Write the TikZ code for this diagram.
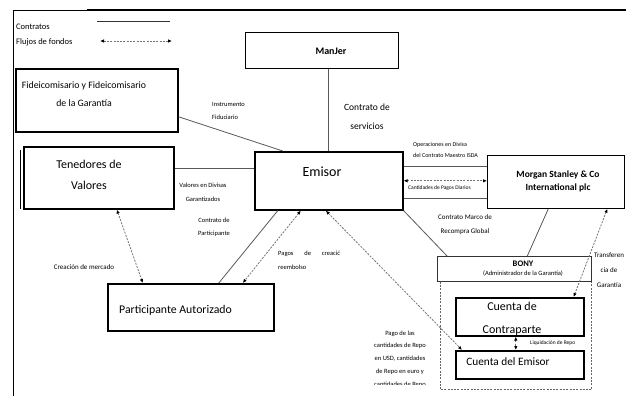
\documentclass[tikz,border=0pt]{standalone}
\usepackage{fontspec}
\setmainfont{Carlito}
\usetikzlibrary{arrows.meta,calc}
\newcommand\myfs[2]{\fontsize{#1}{#2}\selectfont}
\begin{document}
\begin{tikzpicture}[x=1pt,y=-1pt,
  thickbox/.style={draw=black, line width=1.6pt, inner sep=0, anchor=north west},
  thinbox/.style={draw=black, line width=0.7pt, inner sep=0, anchor=north west},
  conn/.style={draw=black!65, line width=0.8pt},
  flow/.style={draw=black!55, line width=0.8pt, dash pattern=on 2pt off 1.3pt,
    {Latex[length=4pt,width=3.5pt,color=black]}-{Latex[length=4pt,width=3.5pt,color=black]}},
  txt/.style={inner sep=0, align=center},
  txtl/.style={inner sep=0, align=left, anchor=west},
]
\clip (0,0) rectangle (626,396);
\fill[white] (0,0) rectangle (626,396);

% frame
\draw[line width=0.8pt] (13,396) -- (13,10) -- (87,10);
\draw[line width=1.6pt] (87,10) -- (626,10);

% legend
\node[txtl, font=\myfs{8.5}{10}] (lg1) at (16,27) {Contratos};
\node[txtl, font=\myfs{8.5}{10}] (lg2) at (16,42) {Flujos de fondos};
\coordinate (l1a) at (97,21); \coordinate (l1b) at (170,21);
\draw[conn, draw=black!80] (l1a) -- (l1b);
\coordinate (l2a) at (100,41); \coordinate (l2b) at (172,41);
\draw[flow] (l2a) -- (l2b);

% boxes
\node[thinbox, minimum width=153pt, minimum height=36pt] (manjer) at (245,32) {};
\node[txt, font=\bfseries\myfs{10}{12}] (manjertxt) at (331,51) {ManJer};

\node[thickbox, minimum width=148pt, minimum height=58pt] (emisor) at (254,151) {};
\node[txt, font=\myfs{14}{16}] (emisortxt) at (322,172) {Emisor};

\node[thickbox, minimum width=162pt, minimum height=63pt] (fid) at (15,68) {};
\node[txt, font=\myfs{9.8}{18}] (fidtxt) at (84,94) {Fideicomisario y Fideicomisario\\de la Garantía};

\node[thickbox, minimum width=150pt, minimum height=62pt] (ten) at (23,146) {};
\draw[line width=0.8pt] ([xshift=-2.5pt,yshift=-4pt]ten.north west) -- ([xshift=-2.5pt,yshift=1pt]ten.south west);
\node[txt, font=\myfs{12}{21}] (tentxt) at (89,175) {Tenedores de\\Valores};

\node[thickbox, minimum width=166pt, minimum height=47pt] (part) at (107,283) {};
\node[txtl, font=\myfs{11.8}{13}] (parttxt) at (119,310) {Participante Autorizado};

\node[thinbox, minimum width=137pt, minimum height=53pt] (morgan) at (487,155) {};
\node[txt, font=\bfseries\myfs{9.5}{13}] (morgantxt) at (558,181) {Morgan Stanley \& Co\\International plc};

\node[draw=black!80, line width=0.6pt, inner sep=0, anchor=north west, minimum width=154pt, minimum height=25pt] (bony) at (437,256) {};
\node[txt, font=\bfseries\myfs{8.5}{10}] (bonytxt) at (523,264) {BONY};
\node[txt, font=\myfs{6.5}{8}] (bonysub) at (523,274) {(Administrador de la Garantía)};

\node[thickbox, minimum width=128pt, minimum height=38pt] (contra) at (455,297) {};
\node[txt, font=\myfs{12}{23}] (contratxt) at (512,319) {Cuenta de\\Contraparte};

\node[thickbox, minimum width=128pt, minimum height=28pt] (cemisor) at (455,350) {};
\node[txt, font=\myfs{11.3}{13}] (cemisortxt) at (508,362) {Cuenta del Emisor};

% enclosure of BONY accounts
\draw[draw=black!60, line width=0.8pt, dash pattern=on 2pt off 1.3pt]
  ([xshift=3pt]bony.south west) -- ++(0,108) -| (bony.south east);

% connectors (contracts)
\draw[conn] (emisor.north |- manjer.south) -- (emisor.north);
\draw[conn] ([yshift=-16.5pt]fid.east) -- ([xshift=-46pt]emisor.north);
\path ([yshift=9pt]ten.east) coordinate (t1);
\draw[conn] (t1) -- (t1 -| emisor.west);
\draw[conn] ([xshift=-51pt]emisor.south) -- ([xshift=28pt]part.north);
\path ([yshift=14pt]emisor.east) coordinate (e1);
\draw[conn] (e1) -- (e1 -| morgan.west);
\path ([yshift=-18pt]emisor.east) coordinate (e3);
\draw[conn] (e3) -- (e3 -| morgan.west);
\draw[conn] (emisor.south east) -- ([xshift=10pt]bony.north west);
\draw[conn] ([xshift=-7.5pt]morgan.south) -- ([xshift=13pt]bony.north);

% flows
\draw[flow] ([xshift=18pt]ten.south) -- ([xshift=-48pt]part.north);
\draw[flow] ([xshift=-28pt]emisor.south) -- ([xshift=52pt]part.north);
\draw[flow] ([xshift=-3pt]emisor.south) -- ([xshift=7pt]cemisor.north west);
\draw[flow] (emisor.east) -- (emisor.east -| morgan.west);
\draw[flow] ([xshift=51.5pt]morgan.south) -- ([xshift=-11pt]contra.north east);
\draw[flow] ([xshift=-4pt]contra.south) -- ([xshift=-4pt]cemisor.north);

% labels
\node[txtl, font=\myfs{6.5}{13}] (lbinst) at (212,110.5) {Instrumento\\Fiduciario};
\node[txt, font=\myfs{9.5}{19}] (lbserv) at (367,117) {Contrato de\\servicios};
\node[txt, font=\myfs{6.5}{14}] (lbval) at (203,192) {Valores en Divisas\\Garantizados};
\node[txt, font=\myfs{6.5}{13}] (lbpart) at (214,227.5) {Contrato de\\Participante};
\node[txt, font=\myfs{7}{9}] (lbmerc) at (84,267) {Creación de mercado};
\node[txtl, font=\myfs{6.5}{14}] (lbpag) at (278,260) {\hbox to 62pt{Pagos\hfill de\hfill creacić}\\reembolso};
\node[txtl, font=\myfs{6}{11}] (lbops) at (413,149.5) {Operaciones en Divisa\\del Contrato Maestro ISDA};
\node[txtl, font=\myfs{5.5}{7}] (lbcant) at (408,188) {Cantidades de Pagos Diarios};
\node[txt, font=\myfs{7}{14}] (lbrep) at (465,225) {Contrato Marco de\\Recompra Global};
\node[txt, font=\myfs{7}{15}] (lbtra) at (609,270) {Transferen\\cia de\\Garantía};
\node[txtl, font=\myfs{5.5}{7}] (lbliq) at (530,343) {Liquidación de Repo};
\begin{scope}
\clip (340,320) rectangle (439,384);
\node[txt, font=\myfs{6.5}{12.8}] (lbpago) at (400,359) {Pago de las\\cantidades de Repo\\en USD, cantidades\\de Repo en euro y\\cantidades de Repo};
\end{scope}
\end{tikzpicture}
\end{document}
